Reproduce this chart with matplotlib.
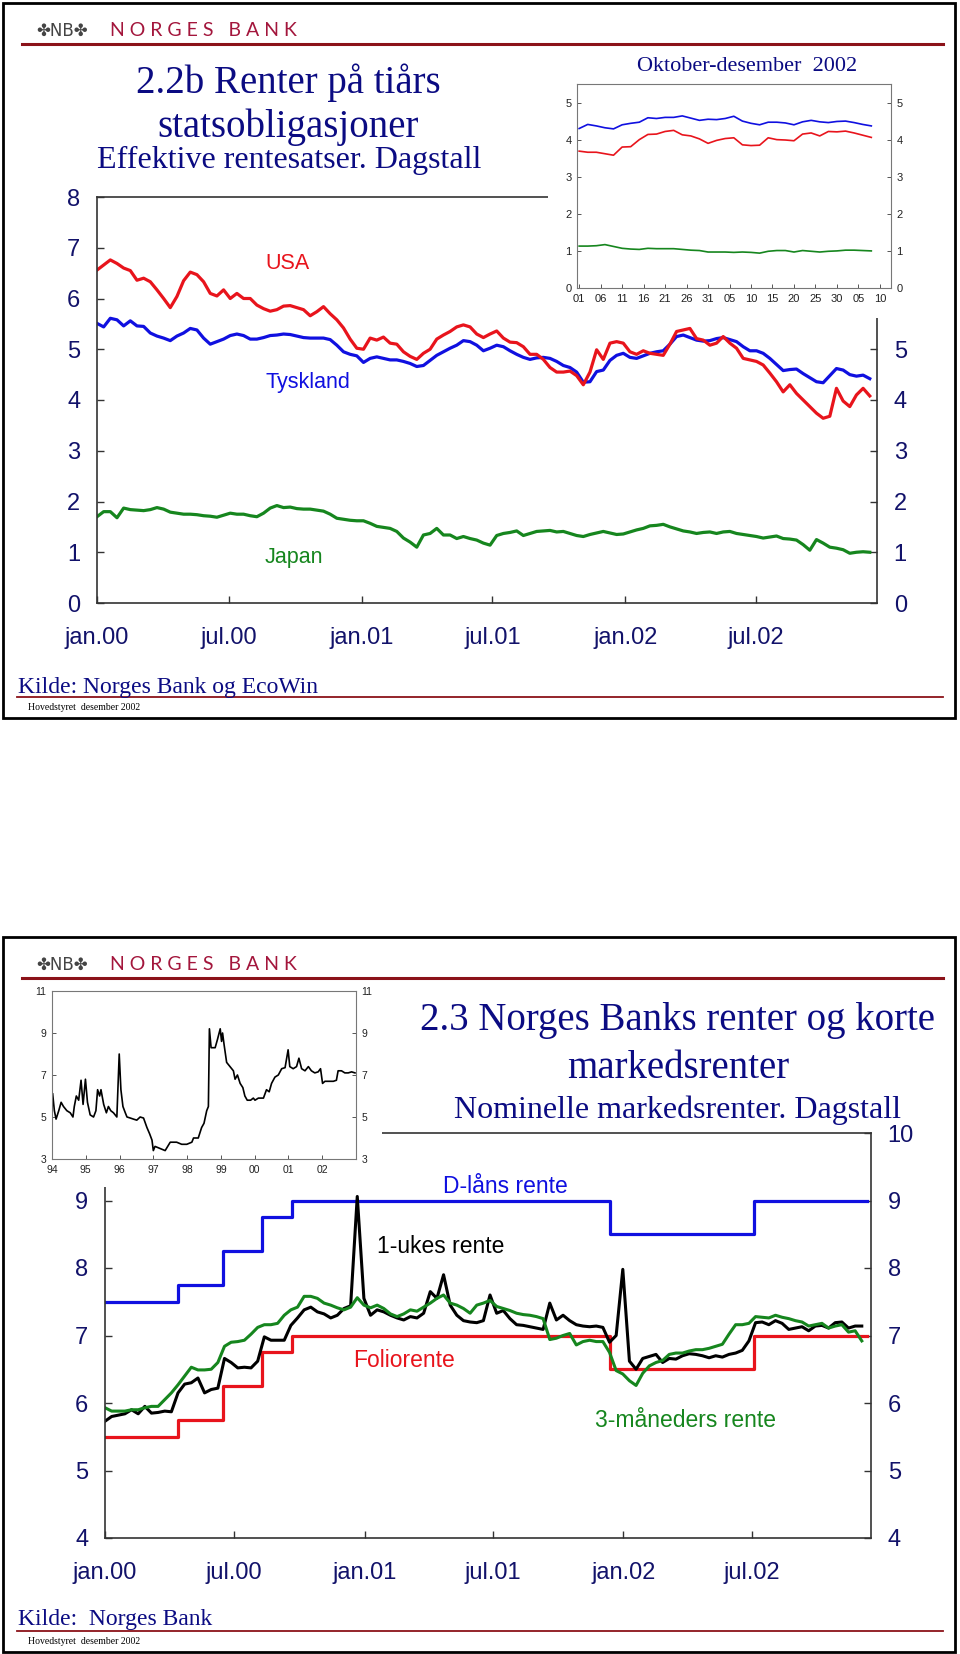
import matplotlib
matplotlib.use("Agg")
import matplotlib.pyplot as plt
from matplotlib.patches import Rectangle
import pandas as pd

W, H = 960, 1654

# ── 2.2b: ten-year government bond yields, daily ──
bond_dates = pd.date_range("2000-01-01", "2002-12-05", periods=117)
usa = [6.56, 6.66, 6.76, 6.69, 6.60, 6.55, 6.36, 6.40, 6.33, 6.17,
       6.00, 5.82, 6.04, 6.35, 6.52, 6.47, 6.33, 6.10, 6.05, 6.17,
       6.00, 6.10, 6.00, 6.00, 5.87, 5.80, 5.75, 5.78, 5.85, 5.86,
       5.82, 5.78, 5.66, 5.74, 5.84, 5.70, 5.58, 5.42, 5.20, 5.02,
       5.00, 5.22, 5.18, 5.24, 5.12, 5.10, 4.95, 4.86, 4.80, 4.92,
       5.00, 5.20, 5.28, 5.35, 5.44, 5.48, 5.44, 5.30,
       5.23, 5.30, 5.36, 5.22, 5.14, 5.13, 5.05, 4.90, 4.90, 4.80,
       4.64, 4.55, 4.55, 4.57, 4.48, 4.30, 4.55, 4.99, 4.80, 5.12,
       5.15, 5.12, 4.95, 4.90, 4.97, 4.92, 4.90, 4.88, 5.10, 5.35,
       5.38, 5.41, 5.21, 5.18, 5.08, 5.12, 5.25, 5.12, 5.02, 4.82,
       4.79, 4.76, 4.69, 4.53, 4.36, 4.16, 4.30, 4.13, 4.00, 3.87,
       3.74, 3.64, 3.68, 4.23, 3.98, 3.87, 4.10, 4.23, 4.08]
tyskland = [5.51, 5.44, 5.61, 5.58, 5.46, 5.56, 5.46, 5.45, 5.32, 5.26,
            5.22, 5.17, 5.26, 5.32, 5.41, 5.38, 5.22, 5.10, 5.15, 5.20,
            5.27, 5.30, 5.27, 5.20, 5.20, 5.23, 5.27, 5.28, 5.30, 5.29,
            5.26, 5.23, 5.22, 5.22, 5.22, 5.19, 5.08, 4.95, 4.90, 4.87,
            4.74, 4.82, 4.85, 4.82, 4.79, 4.79, 4.76, 4.72, 4.66, 4.68,
            4.78, 4.88, 4.95, 5.02, 5.08, 5.17, 5.15, 5.08,
            4.97, 5.02, 5.08, 5.05, 4.97, 4.90, 4.84, 4.80, 4.83, 4.84,
            4.82, 4.76, 4.68, 4.64, 4.55, 4.35, 4.36, 4.56, 4.59, 4.78,
            4.88, 4.92, 4.84, 4.82, 4.87, 4.92, 4.95, 4.97, 5.10, 5.25,
            5.28, 5.23, 5.18, 5.16, 5.17, 5.21, 5.23, 5.19, 5.15, 5.05,
            4.97, 4.97, 4.92, 4.82, 4.70, 4.58, 4.60, 4.61, 4.52, 4.44,
            4.36, 4.34, 4.48, 4.62, 4.59, 4.50, 4.47, 4.49, 4.42]
japan = [1.70, 1.80, 1.80, 1.68, 1.87, 1.84, 1.83, 1.82, 1.84, 1.88,
         1.85, 1.79, 1.77, 1.75, 1.75, 1.74, 1.72, 1.71, 1.69, 1.73,
         1.77, 1.75, 1.75, 1.72, 1.70, 1.77, 1.87, 1.92, 1.88, 1.89,
         1.86, 1.85, 1.85, 1.83, 1.81, 1.75, 1.67, 1.65, 1.63, 1.62,
         1.62, 1.57, 1.51, 1.49, 1.47, 1.41, 1.28, 1.20, 1.10, 1.34,
         1.37, 1.47, 1.34, 1.34, 1.27, 1.31, 1.27, 1.24,
         1.18, 1.14, 1.33, 1.37, 1.39, 1.42, 1.33, 1.37, 1.41, 1.42,
         1.43, 1.40, 1.41, 1.37, 1.33, 1.31, 1.35, 1.38, 1.41, 1.38,
         1.35, 1.36, 1.40, 1.44, 1.47, 1.52, 1.53, 1.55, 1.50, 1.46,
         1.42, 1.40, 1.37, 1.39, 1.40, 1.37, 1.40, 1.41, 1.37, 1.35,
         1.33, 1.31, 1.28, 1.30, 1.32, 1.27, 1.26, 1.24, 1.15, 1.04,
         1.25, 1.18, 1.10, 1.08, 1.05, 0.98, 1.00, 1.01, 1.00]

# inset: oktober-desember 2002
oct_dates = pd.date_range("2002-10-01", periods=35, freq="2D")
oct_tyskland = [4.30, 4.41, 4.37, 4.32, 4.29, 4.40, 4.44, 4.47, 4.59, 4.57,
                4.60, 4.60, 4.64, 4.58, 4.52, 4.55, 4.54, 4.57, 4.63, 4.50,
                4.44, 4.40, 4.47, 4.47, 4.45, 4.40, 4.48, 4.52, 4.48, 4.46,
                4.49, 4.50, 4.46, 4.41, 4.37]
oct_usa = [3.69, 3.66, 3.66, 3.62, 3.58, 3.80, 3.81, 4.00, 4.14, 4.15,
           4.22, 4.25, 4.13, 4.10, 4.02, 3.90, 3.98, 4.03, 4.05, 3.86,
           3.84, 3.85, 4.05, 4.00, 3.99, 3.97, 4.15, 4.18, 4.10, 4.22,
           4.21, 4.23, 4.18, 4.12, 4.06]
oct_japan = [1.13, 1.13, 1.14, 1.17, 1.12, 1.07, 1.05, 1.04, 1.07, 1.06,
             1.06, 1.06, 1.04, 1.02, 1.01, 0.97, 0.97, 0.97, 0.96, 0.97,
             0.96, 0.94, 0.99, 1.01, 1.01, 0.97, 1.01, 0.99, 0.97, 0.99,
             1.00, 1.02, 1.02, 1.01, 1.00]

# ── 2.3: Norges Bank rates and short market rates ─────────
step_dates = pd.to_datetime(["2000-01-01", "2000-04-13", "2000-06-15", "2000-08-10",
                             "2000-09-21", "2001-12-13", "2002-07-04", "2002-12-10"])
folio = [5.5, 5.75, 6.25, 6.75, 7.0, 6.5, 7.0, 7.0]
dlaan = [7.5, 7.75, 8.25, 8.75, 9.0, 8.5, 9.0, 9.0]

mkt_dates = pd.date_range("2000-01-01", "2002-12-03", periods=115)
uke1 = [5.73, 5.80, 5.82, 5.84, 5.90, 5.84, 5.95, 5.85, 5.86, 5.88,
        5.87, 6.15, 6.28, 6.30, 6.37, 6.15, 6.20, 6.22, 6.66, 6.60,
        6.52, 6.53, 6.52, 6.62, 6.98, 6.93, 6.93, 6.93, 7.15, 7.26,
        7.38, 7.42, 7.35, 7.32, 7.26, 7.30, 7.40, 7.44, 9.06, 7.55,
        7.30, 7.38, 7.35, 7.30, 7.26, 7.23, 7.28, 7.26, 7.33, 7.65,
        7.55, 7.90, 7.45, 7.30, 7.22, 7.20, 7.19,
        7.22, 7.60, 7.33, 7.37, 7.25, 7.16, 7.15, 7.13, 7.11, 7.09,
        7.48, 7.23, 7.30, 7.22, 7.16, 7.14, 7.13, 7.14, 7.12, 6.90,
        7.00, 7.98, 6.62, 6.50, 6.66, 6.69, 6.72, 6.60, 6.66, 6.65,
        6.70, 6.73, 6.72, 6.70, 6.67, 6.70, 6.68, 6.72, 6.74, 6.78,
        6.92, 7.19, 7.20, 7.16, 7.22, 7.18, 7.09, 7.11, 7.13, 7.07,
        7.14, 7.15, 7.11, 7.19, 7.20, 7.11, 7.14, 7.14]
mnd3 = [5.93, 5.88, 5.88, 5.88, 5.90, 5.90, 5.93, 5.95, 5.95, 6.05,
        6.15, 6.27, 6.40, 6.53, 6.49, 6.49, 6.50, 6.60, 6.84, 6.90,
        6.91, 6.93, 7.02, 7.12, 7.16, 7.16, 7.18, 7.30, 7.38, 7.42,
        7.58, 7.58, 7.55, 7.48, 7.45, 7.41, 7.38, 7.42, 7.56, 7.45,
        7.41, 7.45, 7.40, 7.32, 7.28, 7.32, 7.38, 7.36, 7.42, 7.48,
        7.55, 7.60, 7.48, 7.45, 7.40, 7.33, 7.45,
        7.48, 7.52, 7.43, 7.40, 7.37, 7.33, 7.31, 7.30, 7.28, 7.25,
        6.94, 6.96, 7.00, 7.03, 6.86, 6.91, 6.93, 6.91, 6.91, 6.75,
        6.48, 6.43, 6.33, 6.26, 6.44, 6.55, 6.60, 6.63, 6.72, 6.74,
        6.74, 6.77, 6.79, 6.79, 6.81, 6.84, 6.87, 7.02, 7.16, 7.16,
        7.18, 7.28, 7.27, 7.26, 7.30, 7.27, 7.25, 7.22, 7.20, 7.14,
        7.16, 7.18, 7.11, 7.14, 7.16, 7.05, 7.07, 6.92]

# inset: 3-month rate 1994-2002
hist_year = [1994.02, 1994.07, 1994.12, 1994.20, 1994.27, 1994.34, 1994.44, 1994.54,
             1994.62, 1994.66, 1994.72, 1994.79, 1994.86, 1994.92, 1994.99, 1995.05,
             1995.13, 1995.23, 1995.30, 1995.35, 1995.41, 1995.45, 1995.53, 1995.61,
             1995.67, 1995.74, 1995.82, 1995.92, 1995.99, 1996.04, 1996.10, 1996.17,
             1996.22, 1996.32, 1996.41, 1996.51, 1996.61, 1996.71, 1996.81, 1996.89,
             1996.96, 1997.00, 1997.05, 1997.20, 1997.35, 1997.50, 1997.69, 1997.84,
             1997.99, 1998.14, 1998.19, 1998.33, 1998.43, 1998.50, 1998.58, 1998.63,
             1998.66, 1998.71, 1998.83, 1998.90, 1998.98, 1999.02, 1999.05, 1999.09,
             1999.17, 1999.27, 1999.37, 1999.42, 1999.49, 1999.57, 1999.65, 1999.71,
             1999.78, 1999.88, 1999.96, 2000.01, 2000.11, 2000.26, 2000.35, 2000.43,
             2000.50, 2000.60, 2000.70, 2000.80, 2000.90, 2000.99, 2001.04, 2001.14,
             2001.24, 2001.31, 2001.39, 2001.49, 2001.59, 2001.68, 2001.78, 2001.88,
             2001.95, 2002.01, 2002.08, 2002.18, 2002.33, 2002.42, 2002.47, 2002.57,
             2002.67, 2002.77, 2002.87, 2002.97]
hist_rate = [6.1, 5.3, 4.9, 5.3, 5.7, 5.5, 5.3, 5.2,
             5.0, 5.5, 6.0, 5.8, 6.75, 5.6, 6.8, 5.7,
             5.1, 5.0, 5.3, 6.3, 6.0, 6.3, 5.6, 5.2,
             5.5, 5.3, 5.2, 5.0, 8.0, 6.3, 5.5, 5.2,
             5.0, 4.95, 4.9, 4.85, 5.0, 4.95, 4.5, 4.2,
             3.9, 3.4, 3.6, 3.5, 3.4, 3.8, 3.8, 3.7,
             3.7, 3.8, 4.0, 4.0, 4.5, 4.7, 5.3, 5.5,
             9.2, 8.3, 8.3, 8.7, 9.2, 8.6, 9.0, 8.5,
             7.6, 7.4, 7.2, 6.8, 7.0, 6.6, 6.4, 6.0,
             5.8, 5.8, 5.9, 5.8, 5.9, 5.9, 6.3, 6.2,
             6.6, 6.9, 7.0, 7.3, 7.35, 8.2, 7.4, 7.3,
             7.4, 7.8, 7.3, 7.2, 7.4, 7.2, 7.1, 7.15,
             7.3, 6.6, 6.7, 6.7, 6.7, 6.75, 7.2, 7.2,
             7.1, 7.1, 7.15, 7.1]

main_ticks = pd.to_datetime(["2000-01-01", "2000-07-01", "2001-01-01",
                             "2001-07-01", "2002-01-01", "2002-07-01"])
main_labels = ["jan.00", "jul.00", "jan.01", "jul.01", "jan.02", "jul.02"]
hist_ticks = list(range(1994, 2003))
hist_labels = ["94", "95", "96", "97", "98", "99", "00", "01", "02"]

# ── Style ─────────────────────────────────────────────────
NAVY = "#12126a"
TITLE = "#0b0b82"
RULE = "#8b1219"
RED, BLUE, GREEN = "#e8141c", "#1010e0", "#16861e"
SERIF = ["Liberation Serif", "DejaVu Serif"]
plt.rcParams["font.family"] = ["Liberation Sans", "DejaVu Sans"]

fig = plt.figure(figsize=(W / 100, H / 100), dpi=100)
fig.patch.set_facecolor("white")


def px_axes(x0, y0, x1, y1, z):
    return fig.add_axes([x0 / W, 1 - y1 / H, (x1 - x0) / W, (y1 - y0) / H], zorder=z)


def ptext(x, y, s, **kw):
    kw.setdefault("va", "baseline")
    fig.text(x / W, 1 - y / H, s, **kw)


def cover(x0, y0, x1, y1):
    fig.add_artist(Rectangle((x0 / W, 1 - y1 / H), (x1 - x0) / W, (y1 - y0) / H,
                             transform=fig.transFigure, fc="white", ec="none", zorder=2))


bg = fig.add_axes([0, 0, 1, 1], zorder=-5)
bg.set_xlim(0, W)
bg.set_ylim(H, 0)
bg.axis("off")

# slide frames, header rules, footers
for top, bot in [(3, 718), (937, 1652)]:
    bg.add_patch(Rectangle((3, top), 952, bot - top, fill=False, ec="black", lw=2))
    bg.plot([22, 943], [top + 41, top + 41], color=RULE, lw=2.2)
    ptext(62, top + 33, "✤NB✤", ha="center", fontsize=12, color="#444444",
          family=["DejaVu Sans"])
    ptext(110, top + 33, "N O R G E S   B A N K", fontsize=14, color="#a3163c",
          family=["Lato", "DejaVu Sans"])
    bg.plot([17, 943], [bot - 21, bot - 21], color=RULE, lw=1.3)
    ptext(28, bot - 8, "Hovedstyret  desember 2002", fontsize=7, color="black", family=SERIF)


def style_main(ax, pad_y):
    for s in ax.spines.values():
        s.set_color("#333333")
        s.set_linewidth(1.2)
    ax.set_facecolor("none")
    ax.set_xticks(main_ticks)
    ax.set_xticklabels(main_labels)
    ax.tick_params(direction="in", length=5, width=1, labelsize=17, labelcolor=NAVY,
                   right=True, labelright=True, color="#333333")
    ax.tick_params(axis="y", pad=pad_y)
    ax.tick_params(axis="x", pad=17)


def style_inset(ax, size):
    for s in ax.spines.values():
        s.set_color("#777777")
        s.set_linewidth(0.8)
    ax.tick_params(direction="in", length=3, width=0.7, labelsize=size, labelcolor="#222222",
                   right=True, labelright=True, color="#555555", pad=4)


# ── Slide 1 ───────────────────────────────────────────────
ptext(288, 93, "2.2b Renter på tiårs", ha="center", fontsize=28, color=TITLE, family=SERIF)
ptext(288, 137, "statsobligasjoner", ha="center", fontsize=28, color=TITLE, family=SERIF)
ptext(289, 168, "Effektive rentesatser. Dagstall", ha="center", fontsize=23, color=TITLE,
      family=SERIF)
ptext(18, 693, "Kilde: Norges Bank og EcoWin", fontsize=17, color=TITLE, family=SERIF)

ax1 = px_axes(97, 197, 877, 603, 1)
ax1.plot(bond_dates, japan, color=GREEN, lw=2.3)
ax1.plot(bond_dates, tyskland, color=BLUE, lw=2.3)
ax1.plot(bond_dates, usa, color=RED, lw=2.3)
ax1.set_xlim(pd.Timestamp("2000-01-01"), pd.Timestamp("2002-12-15"))
ax1.set_ylim(0, 8)
ax1.set_yticks(range(0, 9))
style_main(ax1, 12)
# right-hand labels above 5 sit under the inset
for t in ax1.yaxis.get_major_ticks()[6:]:
    t.label2.set_visible(False)
    t.tick2line.set_visible(False)

ptext(265, 269, "USA", fontsize=15.5, color=RED)
ptext(265, 388, "Tyskland", fontsize=15.5, color=BLUE)
ptext(265, 563, "Japan", fontsize=15.5, color=GREEN)

cover(548, 47, 952, 318)
ptext(747, 71, "Oktober-desember  2002", ha="center", fontsize=16, color=TITLE, family=SERIF)
ins1 = px_axes(577, 84, 891, 288, 4)
ins1.plot(oct_dates, oct_japan, color=GREEN, lw=1.2)
ins1.plot(oct_dates, oct_usa, color=RED, lw=1.2)
ins1.plot(oct_dates, oct_tyskland, color=BLUE, lw=1.2)
ins1.set_ylim(0, 5.5)
ins1.set_yticks(range(0, 6))
oct_ticks = pd.date_range("2002-10-01", periods=15, freq="5D")
ins1.set_xticks(oct_ticks)
ins1.set_xticklabels([d.strftime("%d") for d in oct_ticks])
ins1.set_xlim(pd.Timestamp("2002-09-30 12:00"), pd.Timestamp("2002-12-12 14:00"))
style_inset(ins1, 8)

# ── Slide 2 ───────────────────────────────────────────────
ptext(678, 1030, "2.3 Norges Banks renter og korte", ha="center", fontsize=28, color=TITLE,
      family=SERIF)
ptext(678, 1078, "markedsrenter", ha="center", fontsize=28, color=TITLE, family=SERIF)
ptext(678, 1118, "Nominelle markedsrenter. Dagstall", ha="center", fontsize=23, color=TITLE,
      family=SERIF)
ptext(18, 1625, "Kilde:  Norges Bank", fontsize=17, color=TITLE, family=SERIF)

ax2 = px_axes(105, 1133, 871, 1538, 1)
ax2.step(step_dates, folio, where="post", color=RED, lw=2.3)
ax2.step(step_dates, dlaan, where="post", color=BLUE, lw=2.3)
ax2.plot(mkt_dates, uke1, color="black", lw=2.2)
ax2.plot(mkt_dates, mnd3, color=GREEN, lw=2.2)
ax2.set_xlim(pd.Timestamp("2000-01-01"), pd.Timestamp("2002-12-16"))
ax2.set_ylim(4, 10)
ax2.set_yticks(range(4, 11))
style_main(ax2, 12)
# left-hand "10" sits under the inset
top_tick = ax2.yaxis.get_major_ticks()[-1]
top_tick.label1.set_visible(False)
top_tick.tick1line.set_visible(False)

ptext(443, 1193, "D-låns rente", fontsize=16.5, color=BLUE)
ptext(377, 1253, "1-ukes rente", fontsize=16.5, color="black")
ptext(353, 1367, "Foliorente", fontsize=16.5, color=RED)
ptext(595, 1427, "3-måneders rente", fontsize=16.5, color=GREEN)

cover(6, 983, 382, 1187)
ins2 = px_axes(52, 991, 356, 1159, 4)
ins2.plot(hist_year, hist_rate, color="black", lw=1.2)
ins2.set_xlim(1994, 2003)
ins2.set_ylim(3, 11)
ins2.set_yticks([3, 5, 7, 9, 11])
ins2.set_xticks(hist_ticks)
ins2.set_xticklabels(hist_labels)
style_inset(ins2, 7.5)

plt.savefig("out.png", dpi=100, facecolor="white")
